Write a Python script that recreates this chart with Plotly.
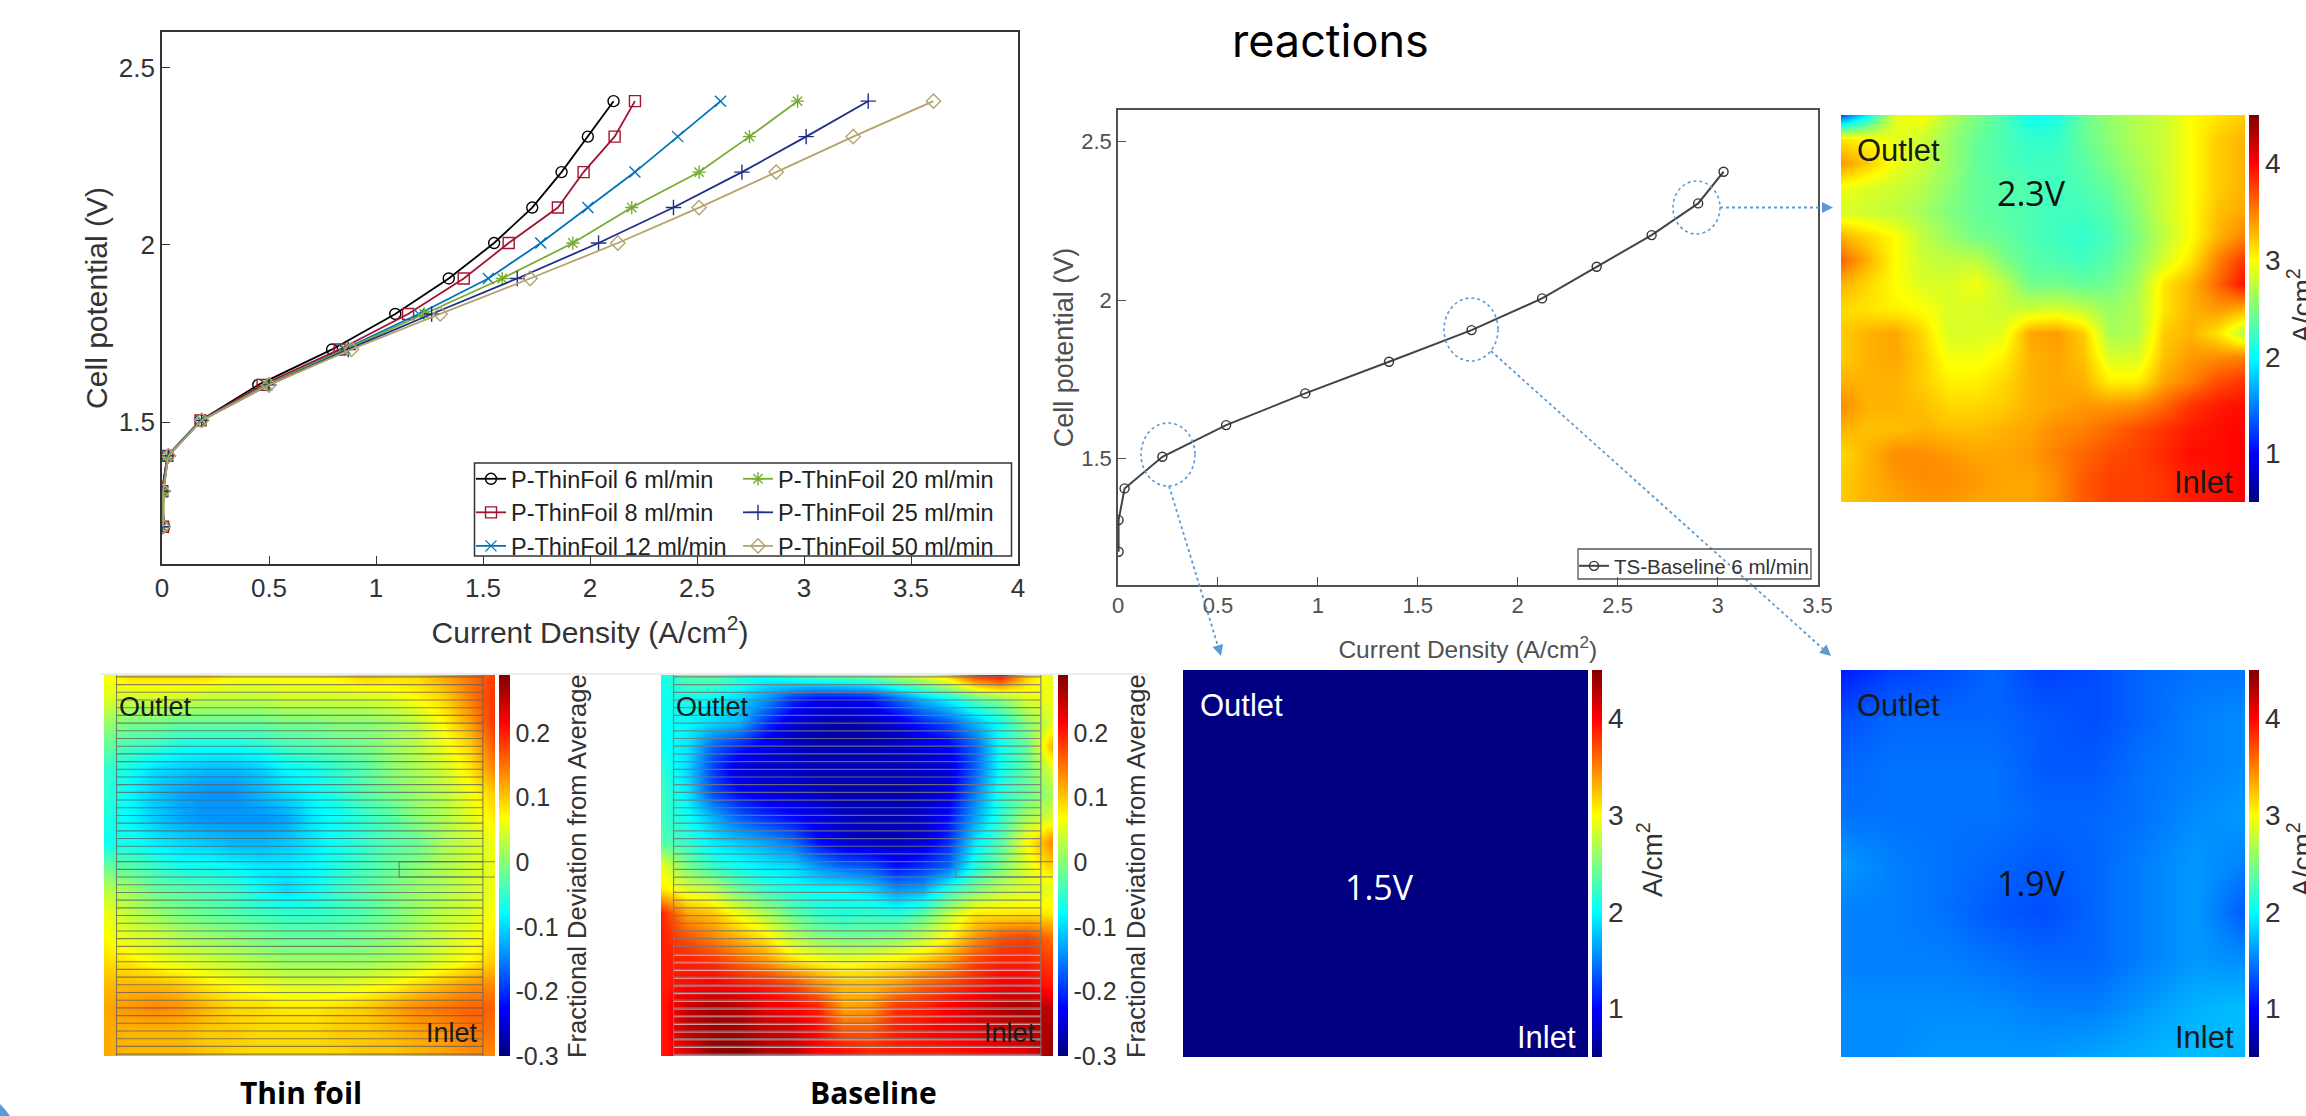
import numpy as np
import plotly.graph_objects as go

W, H = 2306, 1116

# ---------- polarization data ----------
cell_potential = [1.205, 1.305, 1.405, 1.505, 1.605, 1.705, 1.805, 1.905, 2.005, 2.105, 2.205, 2.305, 2.405]
j_6ml = [0.01, 0.0, 0.025, 0.18, 0.45, 0.795, 1.09, 1.34, 1.552, 1.73, 1.867, 1.99, 2.11]
j_8ml = [0.005, 0.0, 0.025, 0.18, 0.47, 0.83, 1.15, 1.41, 1.62, 1.85, 1.97, 2.115, 2.21]
j_12ml = [0.0, 0.005, 0.025, 0.18, 0.49, 0.85, 1.2, 1.525, 1.77, 1.99, 2.21, 2.41, 2.61]
j_20ml = [0.005, 0.01, 0.025, 0.185, 0.49, 0.86, 1.225, 1.59, 1.92, 2.195, 2.51, 2.745, 2.97]
j_25ml = [0.0, 0.005, 0.03, 0.185, 0.5, 0.87, 1.26, 1.66, 2.04, 2.39, 2.71, 3.01, 3.3]
j_50ml = [0.005, 0.005, 0.03, 0.185, 0.5, 0.885, 1.3, 1.72, 2.13, 2.51, 2.87, 3.23, 3.605]
j_base = [0.003, 0.003, 0.033, 0.222, 0.541, 0.937, 1.356, 1.769, 2.122, 2.395, 2.67, 2.903, 3.03]

names_col1 = ["P-ThinFoil 6 ml/min", "P-ThinFoil 8 ml/min", "P-ThinFoil 12 ml/min"]
names_col2 = ["P-ThinFoil 20 ml/min", "P-ThinFoil 25 ml/min", "P-ThinFoil 50 ml/min"]
name_base = "TS-Baseline 6 ml/min"

x_ticks_a = [0, 0.5, 1, 1.5, 2, 2.5, 3, 3.5, 4]
x_ticks_b = [0, 0.5, 1, 1.5, 2, 2.5, 3, 3.5]
y_ticks = [1.5, 2, 2.5]
x_tick_labels_a = ["0", "0.5", "1", "1.5", "2", "2.5", "3", "3.5", "4"]
x_tick_labels_b = ["0", "0.5", "1", "1.5", "2", "2.5", "3", "3.5"]
y_tick_labels = ["1.5", "2", "2.5"]

# ---------- maps (rows from top = Outlet side, read by eye) ----------
map_15 = [[0.5, 0.5], [0.5, 0.5]]
map_19 = [
    [1.1, 1.25, 1.3, 1.4, 1.25, 1.3, 1.4, 1.45, 1.45],
    [1.3, 1.4, 1.4, 1.4, 1.35, 1.3, 1.4, 1.5, 1.55],
    [1.4, 1.45, 1.45, 1.45, 1.35, 1.35, 1.45, 1.5, 1.55],
    [1.45, 1.45, 1.45, 1.45, 1.4, 1.4, 1.45, 1.55, 1.6],
    [1.6, 1.5, 1.45, 1.4, 1.35, 1.4, 1.5, 1.6, 1.5],
    [1.5, 1.5, 1.45, 1.35, 1.3, 1.4, 1.5, 1.6, 1.35],
    [1.5, 1.5, 1.5, 1.45, 1.4, 1.4, 1.5, 1.6, 1.55],
    [1.55, 1.55, 1.55, 1.55, 1.5, 1.5, 1.6, 1.7, 1.75],
    [1.55, 1.55, 1.6, 1.6, 1.6, 1.65, 1.7, 1.75, 1.7],
]
map_23 = [
    [1.3, 2.0, 2.9, 3.0, 2.7, 2.5, 2.3, 2.05, 2.1, 2.4, 2.6, 2.7, 2.8, 3.0, 3.1, 3.2],
    [3.1, 3.0, 2.9, 2.8, 2.6, 2.4, 2.3, 2.2, 2.2, 2.4, 2.55, 2.7, 2.8, 3.0, 3.2, 3.3],
    [3.4, 3.2, 2.95, 2.8, 2.6, 2.4, 2.3, 2.25, 2.25, 2.35, 2.5, 2.65, 2.8, 3.0, 3.2, 3.3],
    [2.95, 2.85, 2.8, 2.7, 2.55, 2.4, 2.35, 2.3, 2.25, 2.3, 2.4, 2.6, 2.8, 3.0, 3.2, 3.3],
    [2.85, 2.8, 2.75, 2.65, 2.5, 2.4, 2.35, 2.3, 2.25, 2.25, 2.35, 2.55, 2.8, 3.0, 3.25, 3.35],
    [3.3, 3.15, 3.0, 2.75, 2.6, 2.45, 2.4, 2.3, 2.25, 2.2, 2.3, 2.5, 2.75, 3.0, 3.3, 3.5],
    [3.6, 3.3, 3.0, 2.8, 2.75, 2.75, 2.5, 2.35, 2.3, 2.25, 2.35, 2.55, 2.85, 3.1, 3.5, 3.8],
    [3.3, 3.15, 3.0, 2.85, 2.85, 2.95, 2.75, 2.45, 2.45, 2.4, 2.45, 2.65, 3.1, 3.3, 3.6, 3.95],
    [3.15, 3.1, 3.05, 3.0, 2.85, 2.85, 2.8, 2.8, 2.85, 2.75, 2.6, 2.7, 3.1, 3.3, 3.4, 3.3],
    [3.2, 3.3, 3.35, 3.15, 2.85, 2.85, 2.9, 3.35, 3.4, 3.2, 2.65, 2.7, 3.2, 3.3, 3.1, 2.7],
    [3.2, 3.3, 3.35, 3.2, 2.95, 2.95, 3.05, 3.3, 3.35, 3.25, 2.85, 2.85, 3.25, 3.4, 3.45, 3.5],
    [3.3, 3.3, 3.3, 3.2, 3.05, 3.05, 3.15, 3.3, 3.35, 3.3, 3.05, 3.05, 3.35, 3.5, 3.7, 3.8],
    [3.45, 3.3, 3.3, 3.25, 3.15, 3.15, 3.2, 3.3, 3.35, 3.4, 3.4, 3.45, 3.6, 3.8, 3.9, 3.95],
    [3.3, 3.25, 3.25, 3.3, 3.25, 3.25, 3.3, 3.35, 3.45, 3.5, 3.6, 3.7, 3.8, 3.9, 3.95, 4.0],
    [3.15, 3.3, 3.45, 3.45, 3.4, 3.35, 3.35, 3.4, 3.5, 3.6, 3.7, 3.75, 3.85, 3.95, 3.95, 4.0],
    [3.2, 3.3, 3.4, 3.45, 3.45, 3.4, 3.35, 3.35, 3.45, 3.65, 3.75, 3.75, 3.8, 3.9, 3.95, 4.0],
    [3.2, 3.3, 3.35, 3.4, 3.4, 3.35, 3.35, 3.35, 3.45, 3.65, 3.75, 3.75, 3.8, 3.9, 3.95, 4.0],
]
dev_thin = [
    [.06, .09, .09, .09, .09, .07, .07, .07, .07, .08, .10, .09, .09, .12, .15, .18],
    [.05, .04, .04, .04, .03, .03, .03, .04, .04, .04, .04, .05, .07, .09, .14, .19],
    [.01, -.01, -.01, -.02, -.02, -.02, -.02, -.01, -.01, 0, 0, .01, .03, .07, .12, .19],
    [-.02, -.04, -.05, -.07, -.07, -.07, -.06, -.04, -.03, -.02, -.01, .01, .03, .06, .09, .17],
    [-.05, -.07, -.1, -.11, -.12, -.12, -.11, -.08, -.07, -.05, -.03, 0, .02, .04, .08, .14],
    [-.05, -.08, -.11, -.13, -.14, -.14, -.12, -.10, -.08, -.06, -.03, -.01, .01, .03, .06, .1],
    [-.06, -.08, -.11, -.13, -.14, -.14, -.14, -.13, -.09, -.07, -.05, -.03, 0, .02, .05, .08],
    [-.07, -.07, -.09, -.1, -.11, -.12, -.12, -.11, -.09, -.07, -.05, -.03, -.02, .02, .04, .06],
    [-.02, -.03, -.05, -.07, -.07, -.08, -.09, -.09, -.08, -.06, -.04, -.02, 0, .02, .04, .06],
    [.03, .01, -.02, -.03, -.04, -.05, -.08, -.1, -.08, -.05, -.03, -.01, .01, .02, .04, .06],
    [.06, .03, .01, -.01, -.02, -.03, -.04, -.05, -.05, -.04, -.03, -.01, .01, .03, .04, .07],
    [.07, .05, .04, .02, .01, 0, -.01, -.02, -.02, -.02, -.01, 0, .02, .04, .06, .08],
    [.09, .08, .06, .05, .04, .03, .02, .01, .01, .01, .01, .02, .03, .05, .07, .1],
    [.11, .11, .11, .1, .08, .07, .06, .05, .05, .05, .06, .07, .09, .11, .13, .14],
    [.12, .13, .14, .13, .11, .09, .09, .08, .08, .09, .1, .12, .14, .15, .16, .16],
    [.12, .11, .11, .11, .1, .1, .09, .09, .09, .1, .1, .11, .12, .13, .15, .15],
    [.12, .11, .11, .11, .1, .09, .09, .09, .09, .09, .1, .1, .11, .12, .13, .14],
]
dev_base = [
    [-.07, -.03, -.02, -.05, -.07, -.04, -.02, -.01, 0, .03, .06, .1, .19, .22, .1, .05],
    [-.07, -.07, -.08, -.1, -.14, -.2, -.23, -.23, -.22, -.17, -.12, -.08, -.03, 0, .05, .06],
    [-.07, -.08, -.1, -.12, -.2, -.25, -.27, -.28, -.27, -.25, -.21, -.18, -.12, -.07, 0, .05],
    [-.07, -.09, -.17, -.21, -.24, -.26, -.27, -.27, -.27, -.26, -.25, -.23, -.17, -.07, -.02, .12],
    [-.05, -.1, -.19, -.25, -.26, -.26, -.27, -.27, -.27, -.27, -.26, -.25, -.17, -.07, -.02, .05],
    [-.04, -.09, -.18, -.22, -.24, -.25, -.26, -.27, -.27, -.27, -.26, -.24, -.15, -.06, -.02, .02],
    [-.04, -.07, -.12, -.17, -.2, -.22, -.24, -.26, -.27, -.27, -.26, -.22, -.13, -.05, .02, .05],
    [-.03, -.05, -.09, -.11, -.13, -.16, -.22, -.25, -.26, -.26, -.25, -.2, -.09, -.03, .07, .14],
    [.06, -.01, -.05, -.07, -.09, -.1, -.14, -.17, -.18, -.22, -.2, -.17, -.06, -.01, .05, .1],
    [.08, .05, .03, -.02, -.05, -.07, -.08, -.08, -.1, -.14, -.13, -.06, -.01, .03, .05, .05],
    [.2, .12, .1, .06, .02, -.02, -.05, -.06, -.05, -.06, -.03, .03, .08, .08, .08, .08],
    [.2, .17, .14, .11, .08, .03, 0, -.01, -.01, 0, .03, .07, .13, .17, .18, .15],
    [.2, .2, .19, .16, .13, .09, .07, .06, .07, .08, .1, .13, .18, .2, .2, .18],
    [.2, .21, .22, .21, .2, .18, .14, .11, .11, .13, .16, .18, .2, .22, .22, .2],
    [.2, .25, .27, .26, .23, .22, .2, .12, .13, .19, .2, .22, .24, .26, .27, .25],
    [.2, .25, .27, .27, .25, .24, .21, .17, .17, .2, .21, .22, .23, .24, .25, .27],
    [.2, .23, .28, .29, .26, .26, .22, .22, .2, .2, .2, .2, .21, .22, .23, .28],
]

current_ticks = [1, 2, 3, 4]
current_tick_labels = ["1", "2", "3", "4"]
dev_ticks = [-0.3, -0.2, -0.1, 0, 0.1, 0.2]
dev_tick_labels = ["-0.3", "-0.2", "-0.1", "0", "0.1", "0.2"]

JET = [[0, "rgb(0,0,128)"], [0.125, "rgb(0,0,255)"], [0.375, "rgb(0,255,255)"],
       [0.625, "rgb(255,255,0)"], [0.875, "rgb(255,0,0)"], [1, "rgb(128,0,0)"]]

SANS = "Liberation Sans"
CALI = "Open Sans"


def px(x):
    return x / W


def py(y):
    return 1 - y / H


def dom_x(a, b):
    return [a / W, b / W]


def dom_y(top, bot):
    return [1 - bot / H, 1 - top / H]


fig = go.Figure()
layout_axes = {}
shapes = []
annotations = []


def line_axes(idx, rect, xr, yr, xt, xtl, yt, ytl, tick_size, t_size_x, t_size_y, standoff_x, standoff_y, col):
    sx = "" if idx == 1 else str(idx)
    common = dict(showline=True, mirror=True, linewidth=1.6, linecolor=col, ticks="inside", ticklen=8,
                  tickwidth=1.2, tickcolor=col, showgrid=False, zeroline=False, tickmode="array",
                  tickfont=dict(family=SANS, size=tick_size, color=col))
    layout_axes["xaxis" + sx] = dict(common, domain=dom_x(rect[0], rect[1]), range=xr, anchor="y" + sx,
                                     tickvals=xt, ticktext=xtl,
                                     title=dict(text="Current Density (A/cm<sup>2</sup>)", standoff=standoff_x,
                                                font=dict(family=SANS, size=t_size_x, color=col)))
    layout_axes["yaxis" + sx] = dict(common, domain=dom_y(rect[2], rect[3]), range=yr, anchor="x" + sx,
                                     tickvals=yt, ticktext=ytl,
                                     title=dict(text="Cell potential (V)", standoff=standoff_y,
                                                font=dict(family=SANS, size=t_size_y, color=col)))


line_axes(1, (162, 1018, 32, 564), [0, 4], [1.1, 2.6], x_ticks_a, x_tick_labels_a, y_ticks, y_tick_labels,
          26, 30, 30, 20, 2, "#333333")
line_axes(2, (1118, 1817.5, 110, 585), [0, 3.5], [1.1, 2.6], x_ticks_b, x_tick_labels_b, y_ticks, y_tick_labels,
          22, 24.5, 27, 24, 0, "#505050")

series_a = [
    (names_col1[0], j_6ml, "#000000", "circle-open", "legend"),
    (names_col1[1], j_8ml, "#a2142f", "square-open", "legend"),
    (names_col1[2], j_12ml, "#0072bd", "x-thin-open", "legend"),
    (names_col2[0], j_20ml, "#77ac30", "asterisk-open", "legend2"),
    (names_col2[1], j_25ml, "#1f2f88", "cross-thin-open", "legend2"),
    (names_col2[2], j_50ml, "#b5a36b", "diamond-open", "legend2"),
]
for name, xs, color, sym, leg in series_a:
    fig.add_trace(go.Scatter(x=xs, y=cell_potential, name=name, mode="lines+markers", xaxis="x", yaxis="y",
                             legend=leg, line=dict(color=color, width=1.8),
                             marker=dict(symbol=sym, size=11, color=color, line=dict(color=color, width=1.4))))
fig.add_trace(go.Scatter(x=j_base, y=cell_potential, name=name_base, mode="lines+markers", xaxis="x2", yaxis="y2",
                         legend="legend3", line=dict(color="#444444", width=2),
                         marker=dict(symbol="circle-open", size=9, color="#333333", line=dict(color="#333333", width=1.4))))


def add_map(idx, rect, z, zmin, zmax, bar, ticks, labels, tick_size, tick_col="#333333"):
    ax = str(idx)
    z = np.array(z, dtype=float)
    rows, cols = z.shape
    fig.add_trace(go.Heatmap(
        z=z, x=np.linspace(0, 1, cols), y=np.linspace(0, 1, rows), xaxis="x" + ax, yaxis="y" + ax,
        zmin=zmin, zmax=zmax, zsmooth="best", colorscale=JET, hoverinfo="skip",
        colorbar=dict(x=px(bar[0]), xanchor="left", y=py(rect[3]), yanchor="bottom", xref="paper", yref="paper",
                      len=rect[3] - rect[2], lenmode="pixels", thickness=bar[1] - bar[0], thicknessmode="pixels",
                      xpad=0, ypad=0, outlinewidth=0, tickmode="array", tickvals=ticks, ticktext=labels, ticks="",
                      tickfont=dict(family=SANS, size=tick_size, color=tick_col), showticklabels=True)))
    layout_axes["xaxis" + ax] = dict(domain=dom_x(rect[0], rect[1]), range=[0, 1], anchor="y" + ax, visible=False, fixedrange=True)
    layout_axes["yaxis" + ax] = dict(domain=dom_y(rect[2], rect[3]), range=[1, 0], anchor="x" + ax, visible=False, fixedrange=True)


add_map(3, (104, 495, 675, 1056), dev_thin, -0.3, 0.29, (499, 510), dev_ticks, dev_tick_labels, 25)
add_map(4, (661, 1053, 675, 1056), dev_base, -0.3, 0.29, (1057.5, 1067.5), dev_ticks, dev_tick_labels, 25)
add_map(5, (1183, 1588, 670, 1057), map_15, 0.5, 4.5, (1592, 1601.5), current_ticks, current_tick_labels, 28)
add_map(6, (1841, 2245.5, 670, 1057), map_19, 0.5, 4.5, (2249, 2259), current_ticks, current_tick_labels, 28)
add_map(7, (1841, 2245, 115, 502), map_23, 0.5, 4.5, (2249, 2259), current_ticks, current_tick_labels, 28)

# flow-field overlay on the two deviation maps
channel_count = 50
channel_left, channel_right = 0.032, 0.969
port_box_top, port_box_bottom = 0.49, 0.53
highlight_from = 0.72


def add_channels(ax, color, width, port_left, highlight=None):
    xs, ys = [], []
    hx, hy = [], []
    for f in np.linspace(0.005, 0.995, channel_count):
        xs += [channel_left, channel_right, None]
        ys += [f, f, None]
        if f > highlight_from:
            hx += [channel_left, channel_right, None]
            hy += [f + 0.003, f + 0.003, None]
    for v in (channel_left, channel_right):
        xs += [v, v, None]
        ys += [0, 1, None]
    xs += [1, port_left, port_left, 1, None]
    ys += [port_box_top, port_box_top, port_box_bottom, port_box_bottom, None]
    if highlight:
        fig.add_trace(go.Scatter(x=hx, y=hy, mode="lines", xaxis="x" + ax, yaxis="y" + ax, showlegend=False,
                                 hoverinfo="skip", line=dict(color=highlight, width=1)))
    fig.add_trace(go.Scatter(x=xs, y=ys, mode="lines", xaxis="x" + ax, yaxis="y" + ax, showlegend=False,
                             hoverinfo="skip", line=dict(color=color, width=width)))


add_channels("3", "rgba(95,95,95,0.75)", 1.1, 0.755)
add_channels("4", "rgba(120,120,120,0.85)", 1.2, 0.752, "rgba(235,235,235,0.7)")


def text(t, x, y, size, color="#1a1a1a", family=SANS, angle=0, bold=False):
    annotations.append(dict(text=f"<b>{t}</b>" if bold else t, x=px(x), y=py(y), xref="paper", yref="paper",
                            xanchor="center", yanchor="middle", showarrow=False, textangle=angle,
                            font=dict(family=family, size=size, color=color)))


text("reactions", 1330, 40, 45, "#000000", "Inter")
text("Thin foil", 301, 1092, 30, "#000000", CALI, bold=True)
text("Baseline", 873, 1092, 30, "#000000", CALI, bold=True)

text("Outlet", 155, 707, 27)
text("Inlet", 452, 1033, 27)
text("Outlet", 712, 707, 27)
text("Inlet", 1010, 1033, 27)
text("Outlet", 1241, 705, 31, "#ffffff")
text("Inlet", 1546, 1037, 31, "#ffffff")
text("1.5V", 1379, 887, 34, "#ffffff", CALI)
text("Outlet", 1898, 705, 31)
text("Inlet", 2204, 1037, 31)
text("1.9V", 2031, 883, 34, "#111111", CALI)
text("Outlet", 1898, 150, 31)
text("Inlet", 2203, 482, 31)
text("2.3V", 2031, 193, 34, "#111111", CALI)

dev_title = "Fractional Deviation from Average"
text(dev_title, 577, 866, 25.5, "#333333", angle=-90)
text(dev_title, 1136, 866, 25.5, "#333333", angle=-90)
unit_title = "A/cm<sup>2</sup>"
text(unit_title, 1650, 860, 28, "#333333", angle=-90)
text(unit_title, 2300, 860, 28, "#333333", angle=-90)
text(unit_title, 2300, 306, 28, "#333333", angle=-90)

BLUE = "#5b9bd5"
for x0, x1, y0, y1 in [(1141, 1195, 423, 486), (1444, 1498, 298, 361), (1673, 1720, 181, 234)]:
    shapes.append(dict(type="circle", xref="paper", yref="paper", x0=px(x0), x1=px(x1), y0=py(y0), y1=py(y1),
                       line=dict(color=BLUE, width=1.6, dash="dot"), layer="above"))
for x0, y0, x1, y1 in [(1169, 486, 1221, 656), (1491, 351, 1831, 656), (1720, 207.5, 1833, 207.5)]:
    ang = np.arctan2(y1 - y0, x1 - x0)
    ux, uy = np.cos(ang), np.sin(ang)
    bx, by = x1 - 11 * ux, y1 - 11 * uy
    shapes.append(dict(type="line", xref="paper", yref="paper", x0=px(x0), y0=py(y0), x1=px(bx), y1=py(by),
                       line=dict(color=BLUE, width=1.8, dash="dot"), layer="above"))
    p = [(x1, y1), (bx - 5.5 * uy, by + 5.5 * ux), (bx + 5.5 * uy, by - 5.5 * ux)]
    path = "M" + " L".join(f"{px(a):.5f},{py(b):.5f}" for a, b in p) + " Z"
    shapes.append(dict(type="path", xref="paper", yref="paper", path=path, fillcolor=BLUE, line=dict(width=0), layer="above"))

# legend frames, light rule above the maps, corner decoration
shapes.append(dict(type="rect", xref="paper", yref="paper", x0=px(474.5), x1=px(1011.5), y0=py(463), y1=py(556),
                   line=dict(color="#333333", width=1.5), layer="above"))
shapes.append(dict(type="rect", xref="paper", yref="paper", x0=px(1578), x1=px(1811), y0=py(549), y1=py(579),
                   line=dict(color="#555555", width=1.3), layer="above"))
shapes.append(dict(type="line", xref="paper", yref="paper", x0=px(100), x1=px(1148), y0=py(674), y1=py(674),
                   line=dict(color="#dddddd", width=1), layer="below"))
corner = "M0,%.5f Q%.5f,%.5f %.5f,%.5f L0,%.5f Z" % (py(1104), px(5), py(1109), px(10), py(1116), py(1116))
shapes.append(dict(type="path", xref="paper", yref="paper", path=corner, fillcolor=BLUE, line=dict(width=0)))

legend_font = dict(family=SANS, size=23.5, color="#222222")
fig.update_layout(
    template="none", width=W, height=H, paper_bgcolor="white", plot_bgcolor="white",
    margin=dict(l=0, r=0, t=0, b=0, autoexpand=False), hovermode=False,
    shapes=shapes, annotations=annotations,
    legend=dict(x=px(471), y=py(457), xanchor="left", yanchor="top", bgcolor="rgba(0,0,0,0)", borderwidth=0,
                font=legend_font, tracegroupgap=0),
    legend2=dict(x=px(738), y=py(457), xanchor="left", yanchor="top", bgcolor="rgba(0,0,0,0)", borderwidth=0,
                 font=legend_font, tracegroupgap=0),
    legend3=dict(x=px(1574), y=py(546), xanchor="left", yanchor="top", bgcolor="rgba(0,0,0,0)", borderwidth=0,
                 font=dict(family=SANS, size=20.5, color="#333333")),
    **layout_axes,
)

fig.write_html("out.html", config={"displayModeBar": False},
               post_script="document.body.style.margin='0';document.body.style.overflow='hidden';")
